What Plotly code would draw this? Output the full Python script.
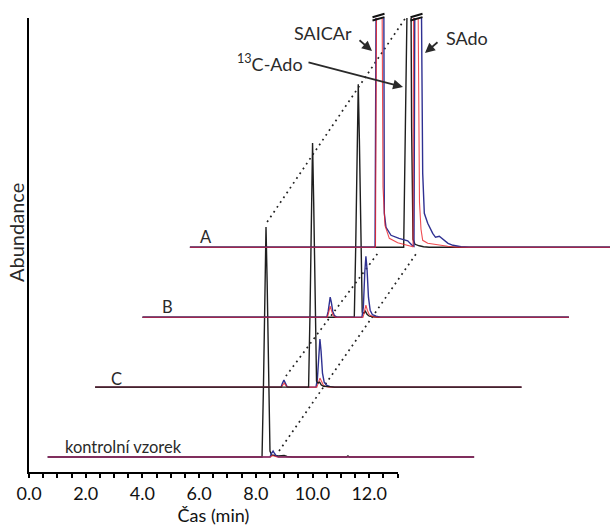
import plotly.graph_objects as go

# ---------------------------------------------------------------- data
# Retention time (min) and abundance (arbitrary units) read per sample.
# black = 13C-Ado (internal standard), blue / red = SAICAr + SAdo channels
SAMPLES = ["kontrolní vzorek", "C", "B", "A"]
RUN_START, RUN_END = 0.66, 15.70

K_BLACK_T = [RUN_START, 8.22, 8.27, 8.32, 8.36, 8.40, 8.45, 8.50, 8.56, 8.65, 8.80, 9.00, 9.10, 9.30, 11.20, 11.25, 11.30, RUN_END]
K_BLACK_Y = [0, 0, 70, 175, 230, 175, 70, 6, 2, 1.5, 1, 1.5, 0.5, 0, 0, 1.2, 0, 0]
K_BLUE_T = [RUN_START, 8.50, 8.56, 8.61, 8.66, 8.72, 8.80, RUN_END]
K_BLUE_Y = [0, 0, 4, 6, 3.5, 1, 0, 0]
K_RED_T = [RUN_START, 8.52, 8.60, 8.68, 8.75, RUN_END]
K_RED_Y = [0, 0, 1.5, 0.5, 0, 0]

C_BLACK_T = [RUN_START, 8.19, 8.24, 8.29, 8.33, 8.37, 8.42, 8.47, 8.52, 8.58, 8.64, 8.72, 8.90, 9.10, RUN_END]
C_BLACK_Y = [0, 0, 74, 185, 244, 185, 74, 6, 4, 5, 2, 0.8, 0.5, 0, 0]
C_BLUE_T = [RUN_START, 7.22, 7.27, 7.32, 7.37, 7.43, 7.50, 8.45, 8.50, 8.55, 8.59, 8.63, 8.68, 8.74, 8.82, 8.95, 9.10, RUN_END]
C_BLUE_Y = [0, 0, 4, 7, 4, 0.5, 0, 0, 8, 34, 48, 36, 14, 5, 2, 0.5, 0, 0]
C_RED_T = [RUN_START, 7.24, 7.29, 7.33, 7.38, 7.44, 8.48, 8.54, 8.59, 8.64, 8.71, 8.80, 8.90, RUN_END]
C_RED_Y = [0, 0, 2.5, 4, 2, 0, 0, 5, 9, 6, 2, 0.5, 0, 0]

B_BLACK_T = [RUN_START, 8.13, 8.18, 8.23, 8.27, 8.31, 8.36, 8.41, 8.47, 8.52, 8.58, 8.66, 8.80, 9.00, RUN_END]
B_BLACK_Y = [0, 0, 70, 177, 233, 177, 70, 5, 4, 6, 3, 1, 0.5, 0, 0]
B_BLUE_T = [RUN_START, 7.16, 7.21, 7.25, 7.28, 7.32, 7.37, 7.43, 7.52, 8.40, 8.45, 8.50, 8.54, 8.58, 8.63, 8.69, 8.77, 8.90, 9.05, RUN_END]
B_BLUE_Y = [0, 0, 6, 16, 20, 15, 6, 1.5, 0, 0, 10, 45, 61, 48, 20, 7, 2.5, 1, 0, 0]
B_RED_T = [RUN_START, 7.18, 7.23, 7.28, 7.33, 7.39, 7.46, 8.44, 8.49, 8.54, 8.59, 8.66, 8.75, 8.85, RUN_END]
B_RED_Y = [0, 0, 5, 11, 6, 1.5, 0, 0, 6, 12, 7, 2.5, 1, 0, 0]

A_BLACK_T = [RUN_START, 8.20, 8.26, 8.29, 8.37, 8.45, 8.48, 8.53, 8.60, 8.75, 8.90, 9.10, RUN_END]
A_BLACK_Y = [0, 0, 120, 300, 340, 300, 120, 8, 3, 1.5, 0.5, 0, 0]
A_BLUE_T = [RUN_START, 7.19, 7.235, 7.365, 7.496, 7.517, 7.577, 7.753, 8.035, 8.342, 8.494, 8.564,
            8.600, 8.706, 8.811, 8.871, 8.928, 9.048, 9.224, 9.323, 9.457, 9.587, 9.764, 9.940, 10.222, 10.504, RUN_END]
A_BLUE_Y = [0, 0, 300, 420, 300, 34, 20, 12, 9, 6.5, 2, 1,
            300, 420, 300, 74, 34, 24, 14, 10, 11, 8, 4, 2, 0.5, 0, 0]
A_RED_T = [RUN_START, 7.206, 7.252, 7.330, 7.429, 7.471, 7.541, 7.693, 7.989, 8.282, 8.519, 8.529,
           8.554, 8.617, 8.695, 8.758, 8.811, 8.871, 9.048, 9.400, 9.753, 10.046, RUN_END]
A_RED_Y = [0, 0, 300, 400, 300, 60, 22, 9, 4.6, 2.3, 0.6, 0.5,
           300, 400, 300, 45, 18, 7, 4, 2.3, 1, 0, 0]

TRACES = {
    "kontrolní vzorek": [(K_BLACK_T, K_BLACK_Y, "black"), (K_BLUE_T, K_BLUE_Y, "blue"), (K_RED_T, K_RED_Y, "red")],
    "C": [(C_BLUE_T, C_BLUE_Y, "blue"), (C_RED_T, C_RED_Y, "red"), (C_BLACK_T, C_BLACK_Y, "black")],
    "B": [(B_BLACK_T, B_BLACK_Y, "black"), (B_BLUE_T, B_BLUE_Y, "blue"), (B_RED_T, B_RED_Y, "red")],
    "A": [(A_BLACK_T, A_BLACK_Y, "black"), (A_BLUE_T, A_BLUE_Y, "blue"), (A_RED_T, A_RED_Y, "red")],
}

# ---------------------------------------------------------------- geometry
W, H = 610, 529
ML, MR, MT, MB = 29, 0, 18, 57
PW, PH = W - ML - MR, H - MT - MB
PX_PER_MIN = 28.35
X_AXIS_END = 13.01
Y_MAX = PH                      # one abundance unit per pixel row

X_STEP, Y_STEP, Y0 = 1.672, 69.9, 15.0   # waterfall offset between samples

COLORS = {"black": "#1e1e1e", "blue": "#2f3192", "red": "#ec2027"}
WIDTHS = {"black": 1.4, "blue": 1.4, "red": 1.1}
OPAC = {"black": 1.0, "blue": 1.0, "red": 0.8}
FONT = "Lato"
TXT = "#2a2a2a"


def shift(i):
    return i * X_STEP, Y0 + i * Y_STEP


def to_px(x, y):
    return ML + x * PX_PER_MIN, MT + PH - y * PH / Y_MAX


def paper(px, py):
    return (px - ML) / PW, (MT + PH - py) / PH


fig = go.Figure()

# dotted guides across the stack: (from sample, t, dy) -> (to sample, t, dy)
# the first one stays inside the time axis and is drawn on it (x / y subplot)
GUIDES = [
    ((0, RUN_START - 0.2 * X_STEP, -0.2 * Y_STEP), (3, RUN_START, 0.0), "#9a9a9a", 1.0, "1px,2px", "x"),
    ((0, 8.40, 235.0), (3, 8.40, 235.0), "#222222", 1.7, "1.8px,4px", "x2"),
    ((1, 7.39, 11.0), (3, 7.295, -5.7), "#222222", 1.7, "1.8px,4px", "x2"),
    ((0, 8.82, 6.0), (3, 8.635, -6.7), "#222222", 1.7, "1.8px,4px", "x2"),
]
for (i0, t0, h0), (i1, t1, h1), col, wd, dash, xa in GUIDES:
    dx0, dy0 = shift(i0)
    dx1, dy1 = shift(i1)
    fig.add_trace(go.Scatter(
        x=[t0 + dx0, t1 + dx1], y=[h0 + dy0, h1 + dy1], mode="lines",
        line=dict(color=col, width=wd, dash=dash),
        xaxis=xa, yaxis="y", hoverinfo="skip", showlegend=False))

# chromatograms (shared time scale, wider drawing area than the time axis)
for i, name in enumerate(SAMPLES):
    dx, dy = shift(i)
    for t, v, c in TRACES[name]:
        fig.add_trace(go.Scatter(
            x=[a + dx for a in t], y=[b + dy for b in v], mode="lines",
            line=dict(color=COLORS[c], width=WIDTHS[c]), opacity=OPAC[c],
            xaxis="x2", yaxis="y", hoverinfo="skip", showlegend=False))

shapes = []
annotations = []

# axis-break marks above the off-scale peaks of sample A
dxA, _ = shift(3)
for t_apex in (7.365, 8.706):
    cx, _ = to_px(t_apex + dxA, 0)
    cx -= 1.5
    for yc in (15.5, 18.8):
        x0, y0 = paper(cx - 6, yc + 1.7)
        x1, y1 = paper(cx + 6, yc - 1.7)
        shapes.append(dict(type="line", xref="paper", yref="paper", x0=x0, y0=y0, x1=x1, y1=y1,
                           line=dict(color="#111111", width=2)))

# sample labels
LABEL_DX = [15, 14, 17, 8]
LABEL_DY = [10, 8, 10, 10]
for i, name in enumerate(SAMPLES):
    dx, dy = shift(i)
    sx, sy = to_px(RUN_START + dx, dy)
    px_, py_ = paper(sx + LABEL_DX[i], sy - LABEL_DY[i])
    annotations.append(dict(text=name, x=px_, y=py_, xref="paper", yref="paper",
                            xanchor="left", yanchor="middle", showarrow=False,
                            font=dict(family=FONT, size=16.5, color=TXT)))

# compound names and arrows
for text, (cx, cy) in [("SAICAr", (323, 33)), ("SAdo", (467, 38)), ("<sup>13</sup>C-Ado", (270, 63))]:
    px_, py_ = paper(cx, cy)
    annotations.append(dict(text=text, x=px_, y=py_, xref="paper", yref="paper",
                            xanchor="center", yanchor="middle", showarrow=False,
                            font=dict(family=FONT, size=18, color=TXT)))
for (hx, hy), (tx, ty) in [((372, 51), (358, 39)), ((425, 53), (439, 41)), ((403, 87), (307, 62))]:
    px_, py_ = paper(hx, hy)
    annotations.append(dict(text="", x=px_, y=py_, xref="paper", yref="paper",
                            ax=tx - hx, ay=ty - hy, axref="pixel", ayref="pixel",
                            showarrow=True, arrowhead=2, arrowsize=1.1, arrowwidth=1.8,
                            arrowcolor=TXT))

# y-axis title
px_, py_ = paper(16, 233)
annotations.append(dict(text="Abundance", x=px_, y=py_, xref="paper", yref="paper",
                        textangle=-90, showarrow=False, xanchor="center", yanchor="middle",
                        font=dict(family=FONT, size=20, color=TXT)))

fig.update_layout(
    width=W, height=H, margin=dict(l=ML, r=MR, t=MT, b=MB),
    paper_bgcolor="white", plot_bgcolor="white",
    showlegend=False, shapes=shapes, annotations=annotations,
    xaxis=dict(domain=[0, X_AXIS_END * PX_PER_MIN / PW], range=[0, X_AXIS_END], anchor="y",
               showline=True, linecolor="black", linewidth=2, showgrid=False, zeroline=False,
               tickmode="linear", tick0=0, dtick=2, tickformat=".1f",
               ticks="outside", ticklen=4, tickwidth=1.5, tickcolor="black",
               minor=dict(dtick=0.5, tick0=0, ticks="outside", ticklen=4, tickwidth=1.5, tickcolor="black"),
               tickfont=dict(family=FONT, size=18, color="#111111"),
               title=dict(text="Čas (min)", font=dict(family=FONT, size=18, color="#111111"), standoff=4)),
    xaxis2=dict(domain=[0, 1], range=[0, PW / PX_PER_MIN], anchor="y", visible=False,
                showgrid=False, zeroline=False),
    yaxis=dict(domain=[0, 1], range=[0, Y_MAX], anchor="x", showline=True, linecolor="black",
               linewidth=2, showgrid=False, zeroline=False, showticklabels=False, ticks=""),
)

fig.write_html("out.html")
